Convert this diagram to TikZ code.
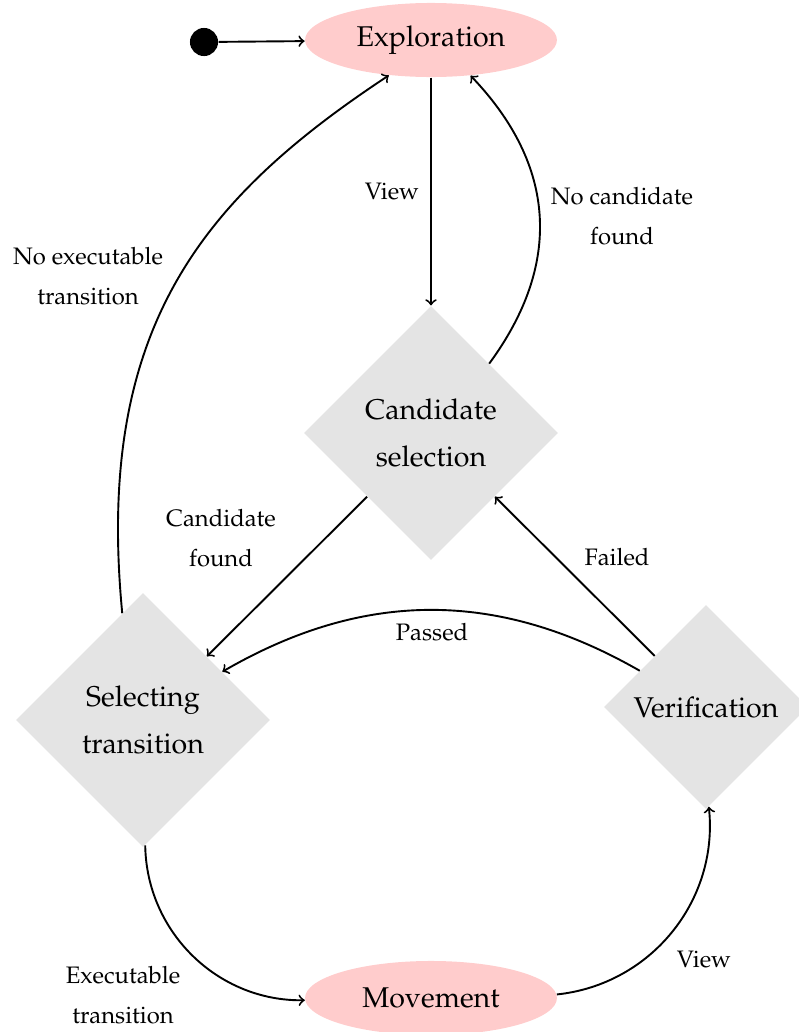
\documentclass[tikz,border=0pt]{standalone}
\usepackage[T1]{fontenc}
\usepackage{mathpazo}
\usetikzlibrary{shapes.geometric}

\definecolor{statepink}{RGB}{255,204,204}
\definecolor{choicegray}{RGB}{228,228,228}

\tikzset{
  state/.style={ellipse, fill=statepink, minimum width=105.8pt, minimum height=31.1pt,
    inner sep=0pt, font=\fontsize{12}{19.7}\selectfont, align=center},
  choice/.style={diamond, aspect=1, fill=choicegray, minimum width=106.7pt,
    minimum height=106.7pt, inner sep=0pt, font=\fontsize{12}{19.7}\selectfont, align=center},
  edgelabel/.style={font=\fontsize{10}{16.8}\selectfont, align=center, inner sep=0pt},
  flow/.style={->, thick},
  startdot/.style={circle, fill=black, minimum size=11.8pt, inner sep=0pt}
}

\begin{document}
\begin{tikzpicture}[x=0.42pt, y=0.42pt]
  \useasboundingbox (0,0) rectangle (798,-1032);

  % states and decisions
  \node[startdot] (start) at (204,-42) {};
  \node[state] (expl) at (431,-40) {Exploration};
  \node[choice] (cand) at (431,-433) {Candidate\\selection};
  \node[choice] (sel) at (143,-720) {Selecting\\transition};
  \node[choice, minimum width=85.7pt, minimum height=85.7pt] (ver) at (706,-707) {Verification};
  \node[state] (mov) at (431,-998) {Movement};

  % transitions
  \draw[flow] (start) -- (expl);
  \draw[flow] (expl) -- (cand);
  \draw[flow] (cand.50) to[bend right=40, looseness=1.1] (expl.318);
  \draw[flow] (sel.101.5) .. controls (95,-330) and (200,-200) .. (expl.220);
  \draw[flow] (cand) -- (sel);
  \draw[flow] (ver) -- (cand);
  \draw[flow] (ver) to[bend right=30] (sel);
  \draw[flow] (sel) to[bend right=45] (mov);
  \draw[flow] (mov) to[bend right=45] (ver);

  % transition labels
  \node[edgelabel] (lview) at (392,-192) {View};
  \node[edgelabel] (lnocand) at (622,-216) {No candidate\\found};
  \node[edgelabel] (lnoexec) at (88,-276) {No executable\\transition};
  \node[edgelabel] (lfound) at (221,-538) {Candidate\\found};
  \node[edgelabel] (lfailed) at (617,-557) {Failed};
  \node[edgelabel] (lpassed) at (432,-632) {Passed};
  \node[edgelabel] (lexec) at (123,-995) {Executable\\transition};
  \node[edgelabel] (lview2) at (704,-959) {View};
\end{tikzpicture}
\end{document}
